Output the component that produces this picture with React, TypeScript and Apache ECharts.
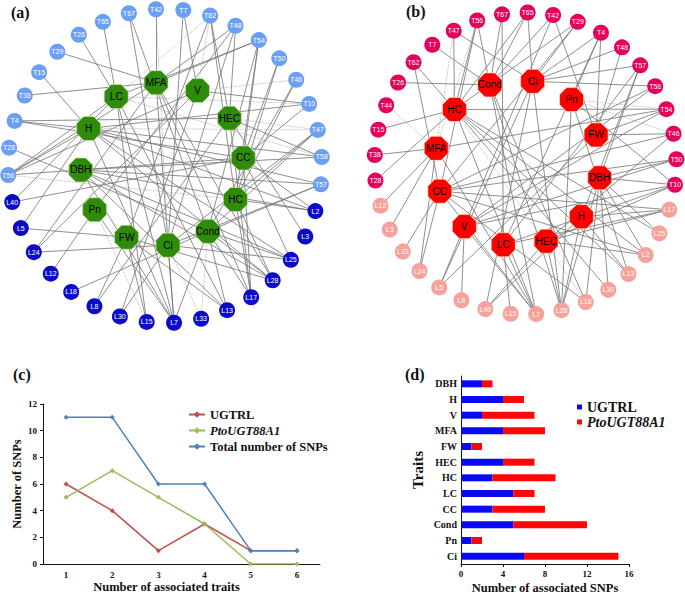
import React, { useEffect, useRef } from 'react';
import * as echarts from 'echarts';

// ---------- Panel (a): network, ring orders ----------
const traitRingA = ['MFA', 'V', 'HEC', 'CC', 'HC', 'Cond', 'Ci', 'FW', 'Pn', 'DBH', 'H', 'LC'];
const snpRingA = ['T42', 'T7', 'T62', 'T48', 'T54', 'T50', 'T46', 'T10', 'T47', 'T58', 'T57',
  'L2', 'L3', 'L25', 'L28', 'L17', 'L13', 'L33', 'L7', 'L15', 'L30', 'L8', 'L18', 'L12', 'L24', 'L5', 'L40',
  'T56', 'T28', 'T4', 'T38', 'T15', 'T29', 'T26', 'T65', 'T67'];
const edgesA: [string, string][] = [
  ['T67', 'Ci'], ['T67', 'Cond'], ['T42', 'MFA'], ['T7', 'V'], ['T7', 'Ci'],
  ['T62', 'HEC'], ['T62', 'HC'], ['T48', 'HEC'], ['T48', 'Ci'], ['T48', 'MFA'],
  ['T54', 'HC'], ['T54', 'CC'], ['T54', 'Cond'], ['T54', 'MFA'], ['T54', 'LC'],
  ['T50', 'HC'], ['T50', 'CC'], ['T46', 'Cond'], ['T46', 'HC'],
  ['T10', 'V'], ['T10', 'H'], ['T10', 'CC'], ['T47', 'HC'], ['T47', 'Ci'], ['T47', 'Cond'],
  ['T58', 'H'], ['T58', 'HEC'], ['T58', 'DBH'], ['T57', 'DBH'], ['T57', 'Cond'], ['T57', 'Ci'], ['T57', 'H'],
  ['T56', 'H'], ['T56', 'LC'], ['T56', 'MFA'], ['T56', 'CC'], ['T56', 'V'],
  ['T28', 'Cond'], ['T4', 'H'], ['T4', 'HEC'], ['T4', 'CC'], ['T38', 'MFA'], ['T15', 'H'],
  ['T29', 'MFA'], ['T26', 'LC'], ['T65', 'LC'], ['T48', 'Pn'], ['T62', 'FW'],
  ['L40', 'LC'], ['L40', 'CC'], ['L5', 'FW'], ['L5', 'H'], ['L24', 'Ci'], ['L24', 'MFA'], ['L24', 'V'], ['L12', 'Pn'],
  ['L18', 'Cond'], ['L8', 'FW'], ['L8', 'HEC'], ['L30', 'Ci'], ['L30', 'V'], ['L15', 'FW'], ['L15', 'LC'],
  ['L7', 'Ci'], ['L7', 'Cond'], ['L7', 'LC'], ['L7', 'H'], ['L7', 'DBH'], ['L7', 'Pn'], ['L7', 'MFA'],
  ['L13', 'FW'], ['L13', 'Cond'], ['L13', 'DBH'], ['L13', 'LC'],
  ['L17', 'HC'], ['L17', 'Cond'], ['L17', 'CC'], ['L17', 'HEC'], ['L17', 'MFA'],
  ['L28', 'Cond'], ['L28', 'FW'], ['L28', 'HC'], ['L28', 'H'], ['L28', 'DBH'], ['L28', 'MFA'],
  ['L25', 'CC'], ['L25', 'Ci'], ['L25', 'Cond'], ['L25', 'H'], ['L25', 'DBH'], ['L3', 'HEC'],
  ['L2', 'HC'], ['L2', 'H'], ['L2', 'DBH'], ['L2', 'CC'],
];
const dottedA: [string, string][] = [
  ['T42', 'Ci'], ['T62', 'V'], ['T62', 'LC'], ['T46', 'V'], ['T10', 'LC'], ['T47', 'HEC'],
  ['T58', 'LC'], ['T56', 'HC'], ['L33', 'Cond'], ['L33', 'Ci'], ['T47', 'H'], ['L15', 'Pn'],
];

// ---------- Panel (b): network, ring orders ----------
const traitRingB = ['Cond', 'Ci', 'Pn', 'FW', 'DBH', 'H', 'HEC', 'LC', 'V', 'CC', 'MFA', 'HC'];
const snpRingB = ['T65', 'T42', 'T29', 'T4', 'T48', 'T57', 'T58', 'T54', 'T46', 'T50', 'T10',
  'L17', 'L25', 'L2', 'L13', 'L30', 'L18', 'L28', 'L7', 'L15', 'L40', 'L8', 'L5', 'L24', 'L33', 'L3', 'L12',
  'T28', 'T38', 'T15', 'T44', 'T26', 'T62', 'T7', 'T47', 'T56', 'T67'];
const edgesB: [string, string][] = [
  ['T65', 'Ci'], ['T65', 'HC'], ['T65', 'Cond'], ['T42', 'Cond'], ['T42', 'FW'], ['T42', 'V'],
  ['T29', 'Ci'], ['T29', 'HC'], ['T29', 'CC'], ['T4', 'Pn'], ['T4', 'Ci'], ['T4', 'FW'], ['T4', 'LC'],
  ['T48', 'Ci'], ['T48', 'FW'], ['T57', 'Ci'], ['T57', 'DBH'], ['T57', 'H'], ['T57', 'LC'],
  ['T58', 'Ci'], ['T58', 'CC'], ['T58', 'V'], ['T54', 'HC'], ['T54', 'FW'], ['T54', 'V'], ['T54', 'MFA'],
  ['T46', 'FW'], ['T46', 'HEC'], ['T46', 'CC'], ['T50', 'DBH'], ['T50', 'CC'], ['T50', 'V'],
  ['T10', 'DBH'], ['T10', 'Pn'], ['T10', 'LC'], ['T10', 'HEC'], ['T10', 'V'],
  ['T28', 'HC'], ['T38', 'MFA'], ['T15', 'HC'], ['T26', 'Cond'], ['T62', 'HC'], ['T62', 'CC'],
  ['T7', 'Cond'], ['T47', 'HC'], ['T47', 'Ci'], ['T56', 'HC'], ['T56', 'CC'], ['T56', 'Cond'],
  ['T67', 'Cond'], ['T67', 'LC'],
  ['L17', 'CC'], ['L17', 'HEC'], ['L17', 'H'], ['L17', 'LC'], ['L25', 'DBH'], ['L25', 'HC'],
  ['L2', 'CC'], ['L2', 'HEC'], ['L2', 'DBH'], ['L2', 'HC'], ['L13', 'H'], ['L13', 'Pn'], ['L13', 'HC'],
  ['L30', 'HC'], ['L30', 'DBH'], ['L18', 'CC'], ['L18', 'DBH'], ['L18', 'Cond'],
  ['L28', 'HEC'], ['L28', 'Ci'], ['L28', 'Cond'], ['L28', 'H'], ['L28', 'DBH'], ['L28', 'Pn'],
  ['L7', 'LC'], ['L7', 'HC'], ['L7', 'Cond'], ['L7', 'V'], ['L7', 'CC'], ['L7', 'MFA'],
  ['L15', 'LC'], ['L40', 'HEC'], ['L40', 'H'], ['L40', 'Ci'], ['L8', 'V'], ['L5', 'V'], ['L5', 'FW'], ['L5', 'Ci'],
  ['L24', 'CC'], ['L24', 'MFA'], ['L33', 'CC'], ['L3', 'MFA'], ['L12', 'MFA'],
];
const dottedB: [string, string][] = [
  ['T46', 'Pn'], ['T44', 'MFA'], ['T47', 'MFA'], ['T56', 'MFA'], ['T54', 'Pn'], ['L18', 'HC'],
];

// ---------- Panel (c) ----------
const assocTraits = ['1', '2', '3', '4', '5', '6'];
const ugtrlSnps = [6, 4, 1, 3, 1, 1];
const ptoSnps = [5, 7, 5, 3, 0, 0];
const totalSnps = [11, 11, 6, 6, 1, 1];

// ---------- Panel (d) ----------
const traitsD = ['Ci', 'Pn', 'Cond', 'CC', 'LC', 'HC', 'HEC', 'FW', 'MFA', 'V', 'H', 'DBH'];
const ugtrlAssoc = [6, 1, 5, 3, 5, 3, 4, 1, 4, 2, 4, 2];
const ptoAssoc = [9, 1, 7, 5, 2, 6, 3, 1, 4, 5, 2, 1];

const SERIF = 'Liberation Serif, Times New Roman, serif';
const SANS = 'Liberation Sans, Arial, sans-serif';
const OCTAGON = 'path://M29.3,0L70.7,0L100,29.3L100,70.7L70.7,100L29.3,100L0,70.7L0,29.3Z';

function ringNodes(names: string[], r: number, startDeg: number, stepDeg: number, cx: number, cy: number, styleFor: (n: string) => any) {
  return names.map((n, i) => {
    const a = ((startDeg + i * stepDeg) * Math.PI) / 180;
    return { name: n, value: [cx + r * Math.sin(a), cy + r * Math.cos(a)], ...styleFor(n) };
  });
}

function buildNetwork(
  traitRing: string[], snpRing: string[], edges: [string, string][], dotted: [string, string][],
  geo: { innerR: number; innerStart: number; innerCx: number; innerCy: number; outerStart: number },
  colors: { t: string; l: string; inner: string; innerBorder: string }
) {
  const outer = ringNodes(snpRing, 1, geo.outerStart, 360 / snpRing.length, 0, 0, (n) => ({
    symbol: 'circle',
    symbolSize: 16,
    itemStyle: { color: n.startsWith('T') ? colors.t : colors.l },
    label: { show: true, color: '#ffffff', fontSize: 7, fontFamily: SANS },
  }));
  const inner = ringNodes(traitRing, geo.innerR, geo.innerStart, 360 / traitRing.length, geo.innerCx, geo.innerCy, () => ({
    symbol: OCTAGON,
    symbolSize: 24,
    itemStyle: { color: colors.inner, borderColor: colors.innerBorder, borderWidth: 0.6 },
    label: { show: true, color: '#000000', fontSize: 10, fontFamily: SANS },
  }));
  const links = [
    ...edges.map(([s, t]) => ({ source: s, target: t })),
    ...dotted.map(([s, t]) => ({ source: s, target: t, lineStyle: { type: 'dotted', color: '#a0a0a0', width: 0.8 } })),
  ];
  return { nodes: [...outer, ...inner], links };
}

export default function App() {
  const ref = useRef<HTMLDivElement>(null);
  useEffect(() => {
    if (!ref.current) return;
    const chart = echarts.init(ref.current, null, { renderer: 'svg' });

    const netA = buildNetwork(traitRingA, snpRingA, edgesA, dottedA,
      { innerR: 0.519, innerStart: -4.2, innerCx: -0.019, innerCy: 0.013, outerStart: -3.3 },
      { t: '#6b9ff4', l: '#0c0cc8', inner: '#2f8c0a', innerBorder: '#d9e9b5' });
    const netB = buildNetwork(traitRingB, snpRingB, edgesB, dottedB,
      { innerR: 0.55, innerStart: -19.8, innerCx: -0.05, innerCy: 0.003, outerStart: 0.8 },
      { t: '#e6005a', l: '#f7a19b', inner: '#ff0000', innerBorder: '#fff3c0' });

    const graphSeries = (idx: number, net: any, name: string) => ({
      type: 'graph',
      name,
      layout: 'none',
      coordinateSystem: 'cartesian2d',
      xAxisIndex: idx,
      yAxisIndex: idx,
      data: net.nodes,
      links: net.links,
      silent: true,
      lineStyle: { color: '#747474', width: 0.85, opacity: 0.95, curveness: 0 },
      emphasis: { disabled: true },
      label: { show: true, position: 'inside' },
    });

    const hiddenX = (g: number) => ({ type: 'value', gridIndex: g, min: -1, max: 1, show: false });
    const hiddenY = (g: number) => ({ type: 'value', gridIndex: g, min: -1, max: 1, show: false });

    const axisLabelStyle = { fontFamily: SERIF, fontWeight: 'bold', fontSize: 9, color: '#111111' };
    const nameStyle = { fontFamily: SERIF, fontWeight: 'bold', fontSize: 12, color: '#111111' };

    const option: any = {
      animation: false,
      textStyle: { fontFamily: SERIF },
      title: [
        { text: '(a)', left: 11, top: 4, padding: 0, textStyle: { fontFamily: SERIF, fontWeight: 'bold', fontSize: 16, color: '#111' } },
        { text: '(b)', left: 406, top: 3, padding: 0, textStyle: { fontFamily: SERIF, fontWeight: 'bold', fontSize: 16, color: '#111' } },
        { text: '(c)', left: 13, top: 366, padding: 0, textStyle: { fontFamily: SERIF, fontWeight: 'bold', fontSize: 16, color: '#111' } },
        { text: '(d)', left: 405, top: 366, padding: 0, textStyle: { fontFamily: SERIF, fontWeight: 'bold', fontSize: 16, color: '#111' } },
      ],
      grid: [
        { left: 8, top: 9, width: 314, height: 314 },
        { left: 374.5, top: 12.5, width: 302, height: 302 },
        { left: 43, top: 404, width: 277, height: 160 },
        { left: 461, top: 376, width: 168, height: 191 },
      ],
      xAxis: [
        hiddenX(0),
        hiddenX(1),
        {
          type: 'category', gridIndex: 2, data: assocTraits, boundaryGap: true,
          axisLine: { lineStyle: { color: '#111', width: 1 } },
          axisTick: { alignWithLabel: true, length: 3, lineStyle: { color: '#111' } },
          axisLabel: { ...axisLabelStyle, margin: 6 },
          name: 'Number of associated traits', nameLocation: 'middle', nameGap: 16,
          nameTextStyle: { ...nameStyle, fontSize: 12.5, padding: [0, 30, 0, 0] },
        },
        {
          type: 'value', gridIndex: 3, min: 0, max: 16, interval: 4,
          axisLine: { show: true, lineStyle: { color: '#111', width: 1 } },
          axisTick: { show: true, length: 3, lineStyle: { color: '#111' } },
          splitLine: { show: false },
          axisLabel: { ...axisLabelStyle, margin: 5 },
          name: 'Number of associated SNPs', nameLocation: 'middle', nameGap: 17,
          nameTextStyle: { ...nameStyle, fontSize: 12.5 },
        },
      ],
      yAxis: [
        hiddenY(0),
        hiddenY(1),
        {
          type: 'value', gridIndex: 2, min: 0, max: 12, interval: 2,
          axisLine: { show: true, lineStyle: { color: '#111', width: 1 } },
          axisTick: { show: true, length: 3, lineStyle: { color: '#111' } },
          splitLine: { show: false },
          axisLabel: { ...axisLabelStyle, margin: 6 },
          name: 'Number of SNPs', nameLocation: 'middle', nameGap: 20,
          nameTextStyle: { ...nameStyle, fontSize: 12.5 },
        },
        {
          type: 'category', gridIndex: 3, data: traitsD, boundaryGap: true,
          axisLine: { show: true, lineStyle: { color: '#111', width: 1 } },
          axisTick: { show: false },
          axisLabel: { ...axisLabelStyle, fontSize: 10, margin: 4 },
          name: 'Traits', nameLocation: 'middle', nameGap: 36,
          nameTextStyle: { ...nameStyle, fontSize: 15 },
        },
      ],
      legend: [
        {
          left: 183, top: 403, orient: 'vertical', itemGap: 3, itemWidth: 16, itemHeight: 8,
          data: ['UGTRL', 'PtoUGT88A1', 'Total number of SNPs'],
          selectedMode: false,
          formatter: (n: string) => (n === 'PtoUGT88A1' ? '{i|PtoUGT88A1}' : n),
          textStyle: {
            fontFamily: SERIF, fontWeight: 'bold', fontSize: 12.5, color: '#111',
            rich: { i: { fontFamily: SERIF, fontWeight: 'bold', fontStyle: 'italic', fontSize: 12.5, color: '#111' } },
          },
        },
        {
          left: 572, top: 395, orient: 'vertical', itemGap: 1, itemWidth: 5, itemHeight: 5, icon: 'rect',
          data: ['UGTRL-bar', 'PtoUGT88A1-bar'],
          selectedMode: false,
          formatter: (n: string) => (n === 'PtoUGT88A1-bar' ? '{i|PtoUGT88A1}' : n.replace('-bar', '')),
          textStyle: {
            fontFamily: SERIF, fontWeight: 'bold', fontSize: 14, color: '#111',
            rich: { i: { fontFamily: SERIF, fontWeight: 'bold', fontStyle: 'italic', fontSize: 14, color: '#111' } },
          },
        },
      ],
      series: [
        graphSeries(0, netA, 'network-a'),
        graphSeries(1, netB, 'network-b'),
        {
          type: 'line', name: 'UGTRL', xAxisIndex: 2, yAxisIndex: 2, data: ugtrlSnps,
          symbol: 'diamond', symbolSize: 5, itemStyle: { color: '#c0504d' }, lineStyle: { width: 1.5, color: '#c0504d' },
        },
        {
          type: 'line', name: 'PtoUGT88A1', xAxisIndex: 2, yAxisIndex: 2, data: ptoSnps,
          symbol: 'diamond', symbolSize: 5, itemStyle: { color: '#9bbb59' }, lineStyle: { width: 1.5, color: '#9bbb59' },
        },
        {
          type: 'line', name: 'Total number of SNPs', xAxisIndex: 2, yAxisIndex: 2, data: totalSnps,
          symbol: 'diamond', symbolSize: 5, itemStyle: { color: '#4f81bd' }, lineStyle: { width: 1.5, color: '#4f81bd' },
        },
        {
          type: 'bar', name: 'UGTRL-bar', xAxisIndex: 3, yAxisIndex: 3, data: ugtrlAssoc, stack: 'snp',
          barWidth: 7, itemStyle: { color: '#0a0af2' },
        },
        {
          type: 'bar', name: 'PtoUGT88A1-bar', xAxisIndex: 3, yAxisIndex: 3, data: ptoAssoc, stack: 'snp',
          barWidth: 7, itemStyle: { color: '#ff0505' },
        },
      ],
    };
    chart.setOption(option);
    return () => chart.dispose();
  }, []);
  return <div ref={ref} style={{ position: 'absolute', left: 0, top: 0, width: 685, height: 595, background: '#ffffff' }} />;
}
